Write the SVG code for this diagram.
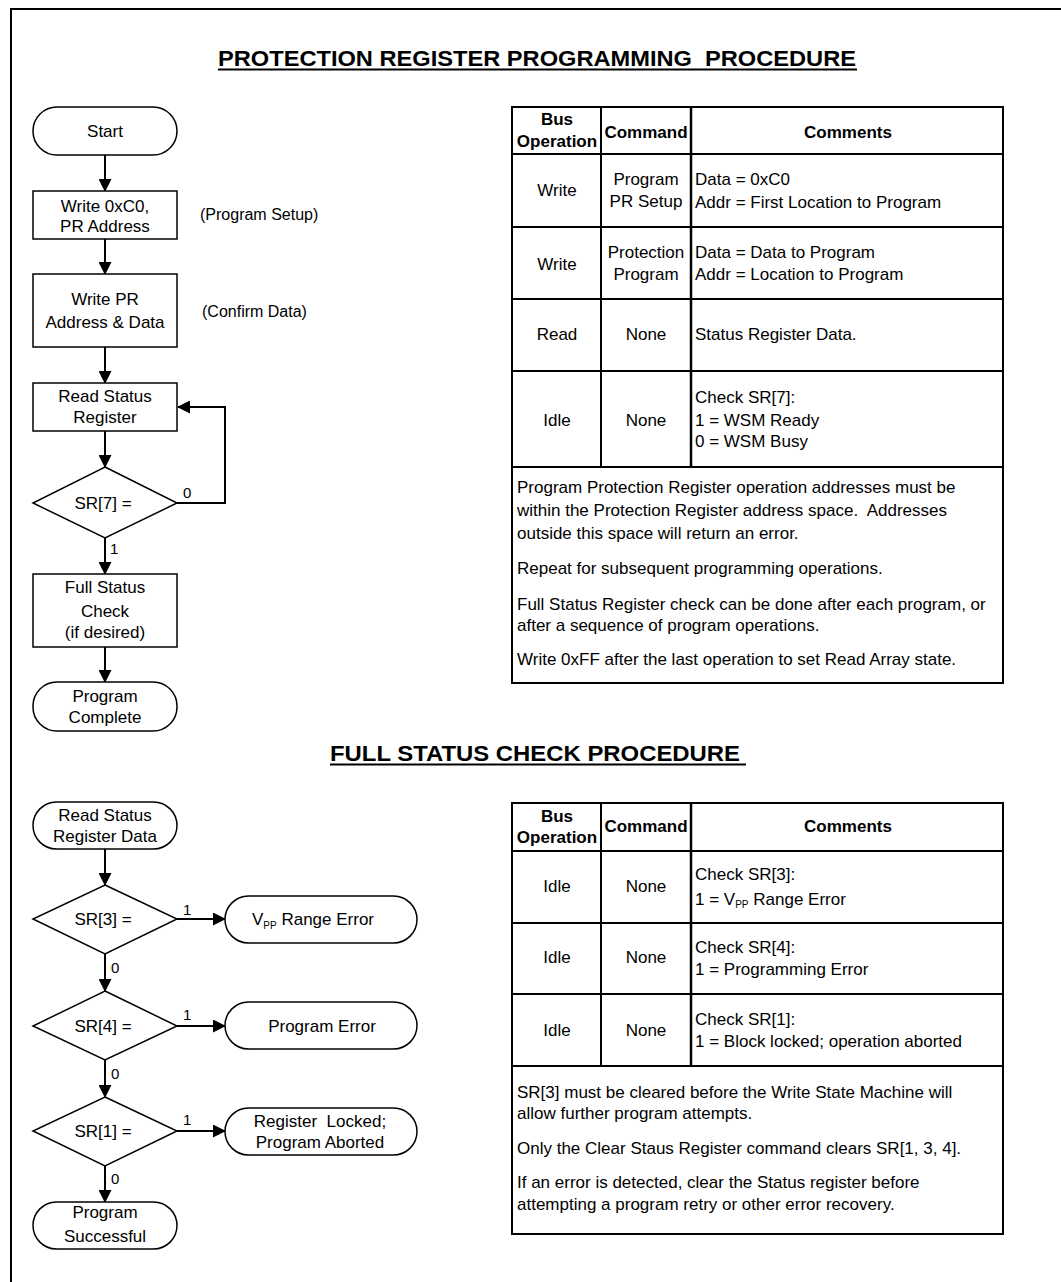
<svg xmlns="http://www.w3.org/2000/svg" width="1061" height="1282" viewBox="0 0 1061 1282">
<style>
text{font-family:"Liberation Sans",Arial,sans-serif;fill:#000}
.t{font-size:17px}
.c{text-anchor:middle}
.b{font-weight:bold}
.s{font-size:15px}
.h{font-size:22px;font-weight:bold}
.n{fill:#fff;stroke:#000;stroke-width:1.5}
.e{fill:none;stroke:#000;stroke-width:2}
.g{fill:none;stroke:#000;stroke-width:2}
</style>
<defs>
<marker id="ah" markerWidth="13" markerHeight="13" refX="12" refY="6.5" orient="auto" markerUnits="userSpaceOnUse">
<path d="M0,0 L13,6.5 L0,13 Z" fill="#000"/>
</marker>
</defs>
<rect width="1061" height="1282" fill="#fff"/>
<path d="M11,1282 V9 H1061" fill="none" stroke="#000" stroke-width="2"/>

<g id="title1">
<text class="h" x="218" y="66" textLength="638" lengthAdjust="spacingAndGlyphs" xml:space="preserve">PROTECTION REGISTER PROGRAMMING  PROCEDURE</text>
<line x1="218" y1="69.5" x2="857" y2="69.5" stroke="#000" stroke-width="2"/>
</g>
<g id="title2">
<text class="h" x="330" y="761" textLength="410" lengthAdjust="spacingAndGlyphs">FULL STATUS CHECK PROCEDURE</text>
<line x1="330" y1="764.5" x2="746" y2="764.5" stroke="#000" stroke-width="2"/>
</g>

<g id="connectors">
<line class="e" x1="105" y1="155" x2="105" y2="191" marker-end="url(#ah)"/>
<line class="e" x1="105" y1="239" x2="105" y2="274" marker-end="url(#ah)"/>
<line class="e" x1="105" y1="347" x2="105" y2="383" marker-end="url(#ah)"/>
<line class="e" x1="105" y1="431" x2="105" y2="467" marker-end="url(#ah)"/>
<polyline class="e" points="177,503 225,503 225,407 178,407" marker-end="url(#ah)"/>
<line class="e" x1="105" y1="538" x2="105" y2="574" marker-end="url(#ah)"/>
<line class="e" x1="105" y1="647" x2="105" y2="682" marker-end="url(#ah)"/>
<line class="e" x1="105" y1="849" x2="105" y2="885" marker-end="url(#ah)"/>
<line class="e" x1="105" y1="954" x2="105" y2="991" marker-end="url(#ah)"/>
<line class="e" x1="105" y1="1060" x2="105" y2="1097" marker-end="url(#ah)"/>
<line class="e" x1="105" y1="1166" x2="105" y2="1202" marker-end="url(#ah)"/>
<line class="e" x1="177" y1="919" x2="225" y2="919" marker-end="url(#ah)"/>
<line class="e" x1="177" y1="1026" x2="225" y2="1026" marker-end="url(#ah)"/>
<line class="e" x1="177" y1="1131" x2="225" y2="1131" marker-end="url(#ah)"/>
<text class="s" x="183" y="498">0</text>
<text class="s" x="110" y="554">1</text>
<text class="s" x="183" y="915">1</text>
<text class="s" x="183" y="1020">1</text>
<text class="s" x="183" y="1125">1</text>
<text class="s" x="111" y="973">0</text>
<text class="s" x="111" y="1079">0</text>
<text class="s" x="111" y="1184">0</text>
</g>

<g id="start">
<rect class="n" x="33" y="107" width="144" height="48" rx="24" ry="24"/>
<text class="t c" x="105" y="137">Start</text>
</g>
<g id="write-setup">
<rect class="n" x="33" y="191" width="144" height="48"/>
<text class="t c" x="105" y="212">Write 0xC0,</text>
<text class="t c" x="105" y="232">PR Address</text>
<text class="t" x="200" y="220" style="font-size:16px">(Program Setup)</text>
</g>
<g id="write-data">
<rect class="n" x="33" y="274" width="144" height="73"/>
<text class="t c" x="105" y="305">Write PR</text>
<text class="t c" x="105" y="328">Address &amp; Data</text>
<text class="t" x="202" y="317" style="font-size:16px">(Confirm Data)</text>
</g>
<g id="read-status">
<rect class="n" x="33" y="383" width="144" height="48"/>
<text class="t c" x="105" y="402">Read Status</text>
<text class="t c" x="105" y="423">Register</text>
</g>
<g id="sr7">
<polygon class="n" points="105,467 177,503 105,538 33,503"/>
<text class="t c" x="103" y="509">SR[7] =</text>
</g>
<g id="full-status">
<rect class="n" x="33" y="574" width="144" height="73"/>
<text class="t c" x="105" y="593">Full Status</text>
<text class="t c" x="105" y="617">Check</text>
<text class="t c" x="105" y="638">(if desired)</text>
</g>
<g id="program-complete">
<rect class="n" x="33" y="682" width="144" height="49" rx="24" ry="24"/>
<text class="t c" x="105" y="702">Program</text>
<text class="t c" x="105" y="723">Complete</text>
</g>

<g id="read-sr-data">
<rect class="n" x="33" y="802" width="144" height="47" rx="23.5" ry="23.5"/>
<text class="t c" x="105" y="821">Read Status</text>
<text class="t c" x="105" y="842">Register Data</text>
</g>
<g id="sr3">
<polygon class="n" points="105,885 177,919 105,954 33,919"/>
<text class="t c" x="103" y="925">SR[3] =</text>
</g>
<g id="vpp-error">
<rect class="n" x="225" y="896" width="192" height="47" rx="23.5" ry="23.5"/>
<text class="t" x="252" y="925">V<tspan style="font-size:10px" dy="4">PP</tspan><tspan dy="-4"> Range Error</tspan></text>
</g>
<g id="sr4">
<polygon class="n" points="105,991 177,1026 105,1060 33,1026"/>
<text class="t c" x="103" y="1032">SR[4] =</text>
</g>
<g id="program-error">
<rect class="n" x="225" y="1002" width="192" height="47" rx="23.5" ry="23.5"/>
<text class="t c" x="322" y="1032">Program Error</text>
</g>
<g id="sr1">
<polygon class="n" points="105,1097 177,1131 105,1166 33,1131"/>
<text class="t c" x="103" y="1137">SR[1] =</text>
</g>
<g id="register-locked">
<rect class="n" x="225" y="1108" width="192" height="47" rx="23.5" ry="23.5"/>
<text class="t c" x="320" y="1127" xml:space="preserve">Register  Locked;</text>
<text class="t c" x="320" y="1148">Program Aborted</text>
</g>
<g id="program-successful">
<rect class="n" x="33" y="1202" width="144" height="47" rx="23.5" ry="23.5"/>
<text class="t c" x="105" y="1218">Program</text>
<text class="t c" x="105" y="1242">Successful</text>
</g>

<g id="table1">
<rect class="g" x="512" y="107" width="491" height="576"/>
<line class="g" x1="512" y1="154" x2="1003" y2="154"/>
<line class="g" x1="512" y1="227" x2="1003" y2="227"/>
<line class="g" x1="512" y1="299" x2="1003" y2="299"/>
<line class="g" x1="512" y1="371" x2="1003" y2="371"/>
<line class="g" x1="512" y1="467" x2="1003" y2="467"/>
<line class="g" x1="601" y1="107" x2="601" y2="467"/>
<line x1="691" y1="107" x2="691" y2="467" stroke="#000" stroke-width="2.5"/>
<text class="t c b" x="557" y="125">Bus</text>
<text class="t c b" x="557" y="147">Operation</text>
<text class="t c b" x="646" y="138">Command</text>
<text class="t c b" x="848" y="138">Comments</text>
<text class="t c" x="557" y="196">Write</text>
<text class="t c" x="646" y="185">Program</text>
<text class="t c" x="646" y="207">PR Setup</text>
<text class="t" x="695" y="185">Data = 0xC0</text>
<text class="t" x="695" y="208">Addr = First Location to Program</text>
<text class="t c" x="557" y="270">Write</text>
<text class="t c" x="646" y="258">Protection</text>
<text class="t c" x="646" y="280">Program</text>
<text class="t" x="695" y="258">Data = Data to Program</text>
<text class="t" x="695" y="280">Addr = Location to Program</text>
<text class="t c" x="557" y="340">Read</text>
<text class="t c" x="646" y="340">None</text>
<text class="t" x="695" y="340">Status Register Data.</text>
<text class="t c" x="557" y="426">Idle</text>
<text class="t c" x="646" y="426">None</text>
<text class="t" x="695" y="403">Check SR[7]:</text>
<text class="t" x="695" y="426">1 = WSM Ready</text>
<text class="t" x="695" y="447">0 = WSM Busy</text>
<text class="t" x="517" y="493">Program Protection Register operation addresses must be</text>
<text class="t" x="517" y="516" xml:space="preserve">within the Protection Register address space.  Addresses</text>
<text class="t" x="517" y="539">outside this space will return an error.</text>
<text class="t" x="517" y="574">Repeat for subsequent programming operations.</text>
<text class="t" x="517" y="610">Full Status Register check can be done after each program, or</text>
<text class="t" x="517" y="631">after a sequence of program operations.</text>
<text class="t" x="517" y="665">Write 0xFF after the last operation to set Read Array state.</text>
</g>

<g id="table2">
<rect class="g" x="512" y="803" width="491" height="431"/>
<line class="g" x1="512" y1="851" x2="1003" y2="851"/>
<line class="g" x1="512" y1="923" x2="1003" y2="923"/>
<line class="g" x1="512" y1="994" x2="1003" y2="994"/>
<line class="g" x1="512" y1="1066" x2="1003" y2="1066"/>
<line class="g" x1="601" y1="803" x2="601" y2="1066"/>
<line x1="691" y1="803" x2="691" y2="1066" stroke="#000" stroke-width="2.5"/>
<text class="t c b" x="557" y="822">Bus</text>
<text class="t c b" x="557" y="843">Operation</text>
<text class="t c b" x="646" y="832">Command</text>
<text class="t c b" x="848" y="832">Comments</text>
<text class="t c" x="557" y="892">Idle</text>
<text class="t c" x="646" y="892">None</text>
<text class="t" x="695" y="880">Check SR[3]:</text>
<text class="t" x="695" y="905">1 = V<tspan style="font-size:10px" dy="3">PP</tspan><tspan dy="-3"> Range Error</tspan></text>
<text class="t c" x="557" y="963">Idle</text>
<text class="t c" x="646" y="963">None</text>
<text class="t" x="695" y="953">Check SR[4]:</text>
<text class="t" x="695" y="975">1 = Programming Error</text>
<text class="t c" x="557" y="1036">Idle</text>
<text class="t c" x="646" y="1036">None</text>
<text class="t" x="695" y="1025">Check SR[1]:</text>
<text class="t" x="695" y="1047">1 = Block locked; operation aborted</text>
<text class="t" x="517" y="1098">SR[3] must be cleared before the Write State Machine will</text>
<text class="t" x="517" y="1119">allow further program attempts.</text>
<text class="t" x="517" y="1154">Only the Clear Staus Register command clears SR[1, 3, 4].</text>
<text class="t" x="517" y="1188">If an error is detected, clear the Status register before</text>
<text class="t" x="517" y="1210">attempting a program retry or other error recovery.</text>
</g>
</svg>
